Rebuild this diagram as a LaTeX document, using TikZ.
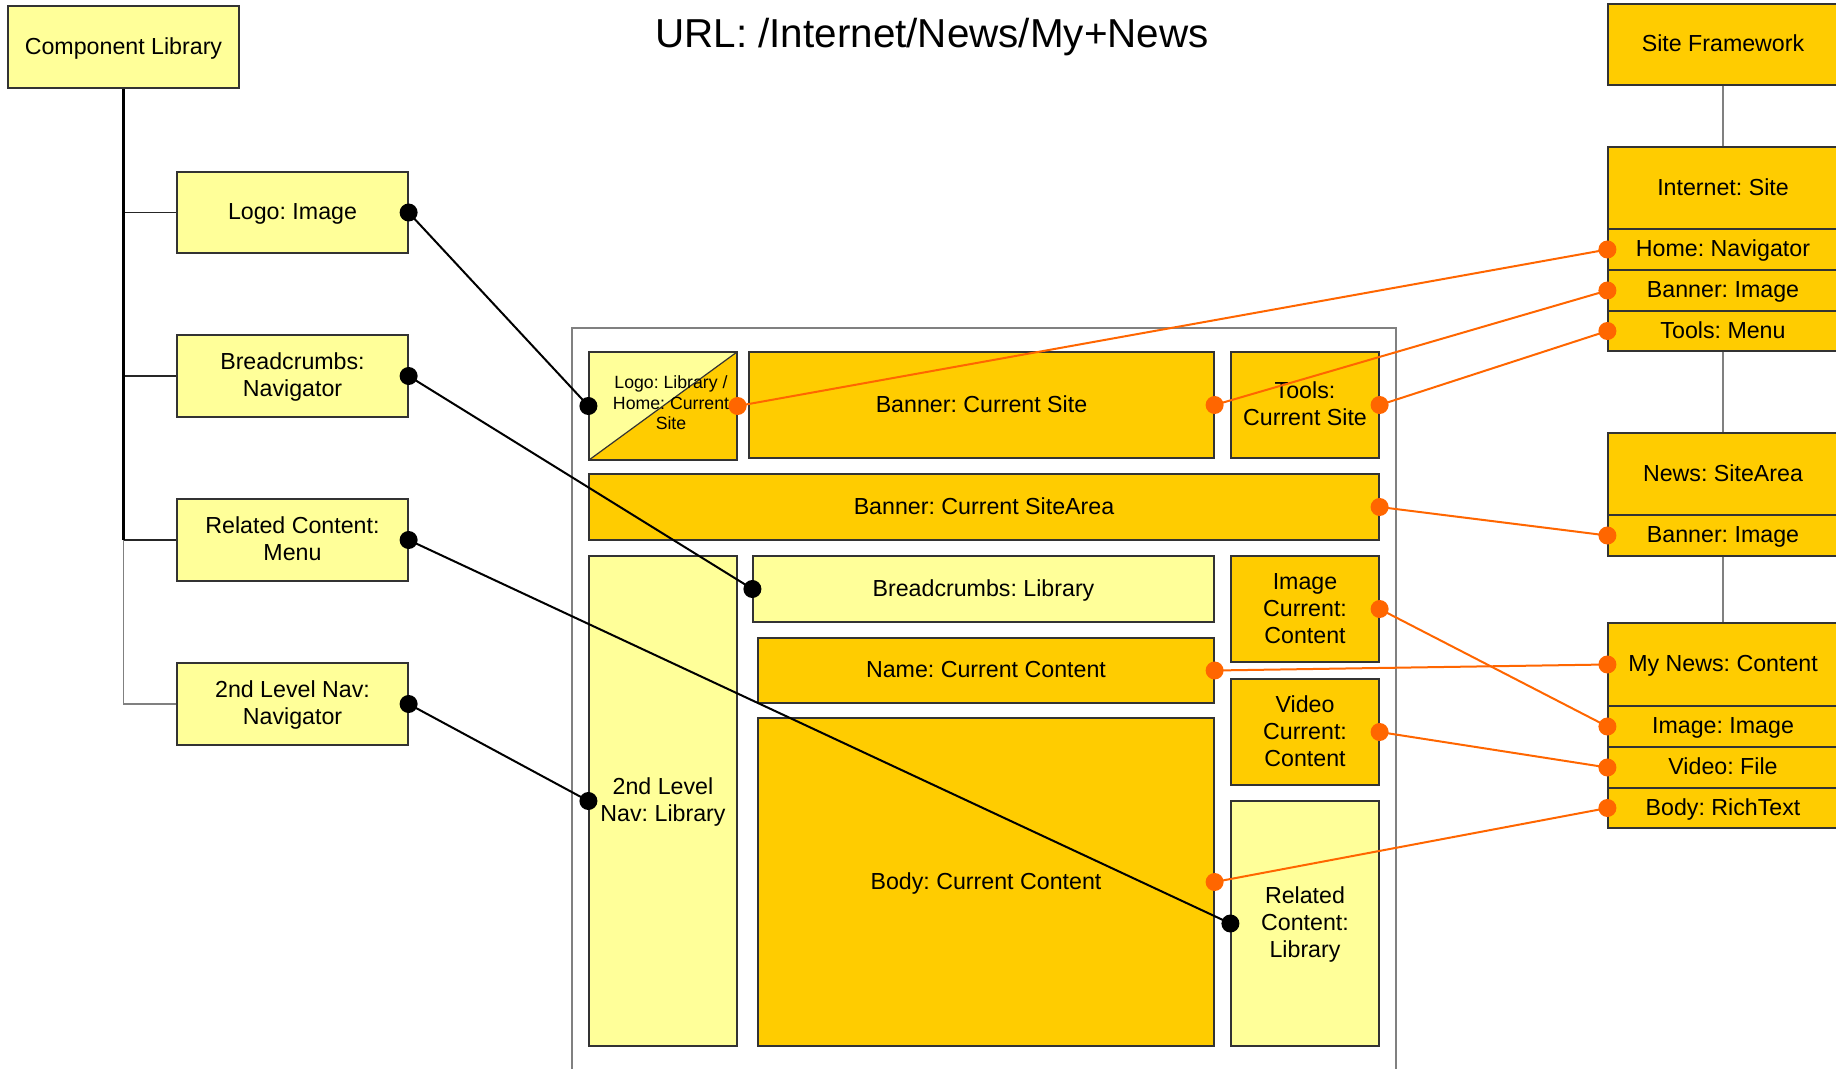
\documentclass[tikz,border=0pt]{standalone}
\usepackage{fontspec}
\setmainfont{Liberation Sans}
\usetikzlibrary{fit}
\definecolor{lyel}{HTML}{FFFF99}
\definecolor{gold}{HTML}{FFCC00}
\definecolor{orng}{HTML}{FF6600}
\definecolor{bord}{HTML}{333333}
\definecolor{framegray}{HTML}{808080}
\frenchspacing
\newcommand\cstrut{\vrule height 9.9pt depth 2.6pt width 0pt}
% \bx{style}{corners}{name}{text}
\newcommand\bx[4]{\node[#1, fit={#2}, label={[lbltxt]center:{\cstrut#4\cstrut}}] (#3) {};}
\begin{document}
\begin{tikzpicture}[x=0.5pt,y=-0.5pt,
  lbltxt/.style={align=center, inner sep=0pt, font=\fontsize{11.6}{13.5}\selectfont},
  lbox/.style={draw=bord, line width=0.6pt, fill=lyel, inner sep=0pt},
  gbox/.style={lbox, fill=gold},
  blk/.style={line width=1pt, black},
  org/.style={line width=1pt, orng},
  treeline/.style={line width=0.6pt, black!85},
  vconn/.style={line width=0.8pt, framegray}]
\clip (0,0) rectangle (1836,1069);
\fill[white] (0,0) rectangle (1836,1069);

% title
\node[font=\fontsize{20.2}{24}\selectfont] (title) at (932,37) {URL: /Internet/News/My+News};

% component library
\bx{lbox}{(8,6) (239,88)}{complib}{Component Library}
\bx{lbox}{(177,172) (408,253)}{logoimg}{Logo: Image}
\bx{lbox}{(177,335) (408,417)}{breadnav}{Breadcrumbs:\\Navigator}
\bx{lbox}{(177,499) (408,581)}{relmenu}{Related Content:\\Menu}
\bx{lbox}{(177,663) (408,745)}{navnav}{2nd Level Nav:\\Navigator}

\draw[treeline] (complib.south) |- (logoimg.west);
\draw[treeline] (complib.south) |- (breadnav.west);
\draw[treeline] (complib.south) |- (relmenu.west);
\draw[treeline, framegray] (complib.south) |- (navnav.west);
\draw[line width=1.1pt, black] (complib.south) -- (complib.south |- relmenu.west);

% page frame
\draw[framegray, line width=0.6pt] (572,328) rectangle (1396,1100);

% logo / home split box
\fill[lyel] (589,352) -- (737,352) -- (589,460) -- cycle;
\fill[gold] (737,352) -- (737,460) -- (589,460) -- cycle;
\draw[bord, line width=0.6pt] (589,460) -- (737,352);
\node[draw=bord, line width=0.6pt, inner sep=0pt, fit={(589,352) (737,460)}] (logohome) {};
\node[font=\fontsize{8.85}{10.2}\selectfont, align=center, inner sep=0pt] (logotxt) at (671,403) {Logo: Library /\\Home: Current\\Site};

\bx{gbox}{(749,352) (1214,458)}{bannersite}{Banner: Current Site}
\bx{gbox}{(1231,352) (1379,458)}{tools}{Tools:\\Current Site}
\bx{gbox}{(589,474) (1379,540)}{bannerarea}{Banner: Current SiteArea}
\bx{lbox}{(589,556) (737,1046)}{navlib}{2nd Level\\Nav: Library}
\bx{lbox}{(753,556) (1214,622)}{breadlib}{Breadcrumbs: Library}
\bx{gbox}{(758,638) (1214,703)}{name}{Name: Current Content}
\bx{gbox}{(758,718) (1214,1046)}{body}{Body: Current Content}
\bx{gbox}{(1231,556) (1379,662)}{imgcur}{Image\\Current:\\Content}
\bx{gbox}{(1231,679) (1379,785)}{vidcur}{Video\\Current:\\Content}
\bx{lbox}{(1231,801) (1379,1046)}{rellib}{Related\\Content:\\Library}

% site framework
\bx{gbox}{(1608,4) (1838,85)}{sitefw}{Site Framework}
\bx{gbox}{(1608,147) (1838,229)}{inet}{Internet: Site}
\bx{gbox}{(1608,229) (1838,270)}{homenav}{Home: Navigator}
\bx{gbox}{(1608,270) (1838,311)}{bannerimg}{Banner: Image}
\bx{gbox}{(1608,311) (1838,351)}{toolsmenu}{Tools: Menu}
\bx{gbox}{(1608,433) (1838,515)}{news}{News: SiteArea}
\bx{gbox}{(1608,515) (1838,556)}{newsbanner}{Banner: Image}
\bx{gbox}{(1608,623) (1838,706)}{mynews}{My News: Content}
\bx{gbox}{(1608,706) (1838,747)}{imgimg}{Image: Image}
\bx{gbox}{(1608,747) (1838,788)}{video}{Video: File}
\bx{gbox}{(1608,788) (1838,828)}{bodyrt}{Body: RichText}

\draw[vconn] (sitefw.south) -- (inet.north);
\draw[vconn] (toolsmenu.south) -- (news.north);
\draw[vconn] (newsbanner.south) -- (mynews.north);

% black connectors
\draw[blk] (logoimg.east) -- (logohome.west);
\draw[blk] (breadnav.east) -- (breadlib.west);
\draw[blk] (relmenu.east) -- (rellib.west);
\draw[blk] (navnav.east) -- (navlib.west);
\foreach \n in {logoimg.east, logohome.west, breadnav.east, breadlib.west,
                relmenu.east, rellib.west, navnav.east, navlib.west}
  \fill[black] (\n) circle[radius=9];

% orange connectors
\draw[org] (logohome.east) -- (homenav.west);
\draw[org] (bannersite.east) -- (bannerimg.west);
\draw[org] (tools.east) -- (toolsmenu.west);
\draw[org] (bannerarea.east) -- (newsbanner.west);
\draw[org] (imgcur.east) -- (imgimg.west);
\draw[org] (name.east) -- (mynews.west);
\draw[org] (vidcur.east) -- (video.west);
\draw[org] (body.east) -- (bodyrt.west);
\foreach \n in {logohome.east, homenav.west, bannersite.east, bannerimg.west,
                tools.east, toolsmenu.west, bannerarea.east, newsbanner.west,
                imgcur.east, imgimg.west, name.east, mynews.west,
                vidcur.east, video.west, body.east, bodyrt.west}
  \fill[orng] (\n) circle[radius=9];
\end{tikzpicture}
\end{document}
